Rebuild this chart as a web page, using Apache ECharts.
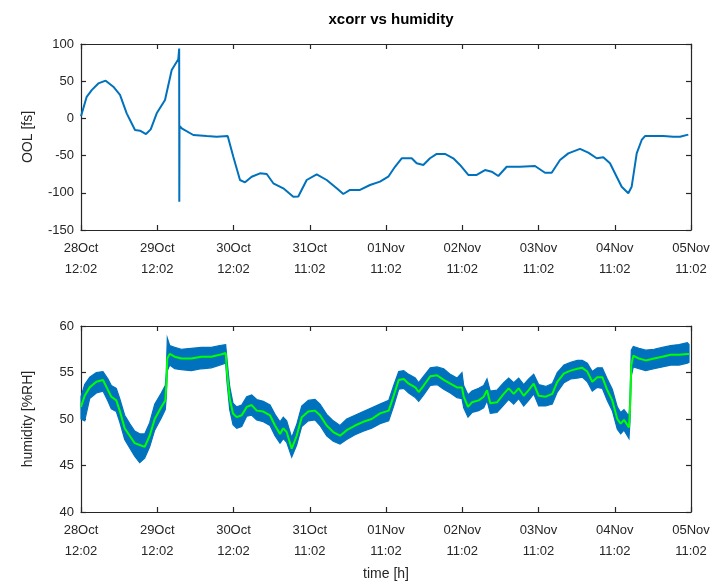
<!DOCTYPE html>
<html>
<head>
<meta charset="utf-8">
<title>xcorr vs humidity</title>
<script src="https://cdn.jsdelivr.net/npm/echarts@6/dist/echarts.min.js"></script>
<style>
  html, body { margin: 0; padding: 0; background: #ffffff; }
  #chart { width: 716px; height: 582px; }
</style>
</head>
<body>
<div id="chart"></div>
<script>
// Time axis: hours since 28 Oct 12:02, one tick per day
const xTickLabels = [
  '28Oct\n12:02', '29Oct\n12:02', '30Oct\n12:02', '31Oct\n11:02', '01Nov\n11:02',
  '02Nov\n11:02', '03Nov\n11:02', '04Nov\n11:02', '05Nov\n11:02'
];

// OOL cross-correlation offset [fs]
const oolHours = [
  0, 1.79, 3.37, 5.45, 7.77, 10.17, 12.28, 14.38, 17.0, 18.57, 20.46, 21.94, 23.83, 26.44,
  28.55, 30.62, 30.90, 30.94, 31.00, 31.70, 35.35, 39.56, 42.71, 46.17, 47.94, 50.04, 51.62,
  53.73, 56.34, 58.45, 60.53, 63.67, 66.82, 68.39, 71.04, 74.19, 77.33, 80.48, 82.56, 84.67,
  87.81, 90.96, 94.11, 96.72, 98.83, 100.94, 104.09, 105.66, 107.74, 109.85, 111.96, 114.57,
  117.18, 119.29, 121.90, 124.55, 127.16, 129.27, 131.35, 133.99, 138.18, 142.90, 146.05,
  148.15, 150.77, 153.38, 157.06, 159.67, 162.32, 164.40, 166.50, 168.61, 170.18, 172.26,
  173.33, 174.91, 176.48, 177.52, 183.28, 186.43, 188.54, 191.15
];
const oolValues = [
  3, 29, 38, 47, 50.7, 42.6, 31.5, 6.8, -15.6, -16.5, -21, -14.7, 6.8, 24.7,
  65, 79.4, 94, -112, -10, -13.3, -22.3, -23.7, -24.6, -23.7, -51.5, -82.8, -85.9,
  -78.4, -73.8, -74.7, -87.2, -94, -105.2, -105, -82.8, -75.1, -82.8, -94, -101.6, -96.2,
  -96.2, -89.5, -85, -78.4, -65, -53.6, -53.6, -60.3, -62.6, -53.6, -47.8, -47.8,
  -53.6, -62.6, -76, -76, -69.4, -71.6, -77.4, -65, -65, -64, -73,
  -73, -55.9, -47, -41, -46, -53.6, -52.3, -60.3, -78.4, -91.8, -100.7,
  -91.8, -47, -29, -23.7, -23.7, -24.6, -24.6, -21.8
];

// Humidity [%RH]: smoothed trace plus the spread of the raw readings
const humHours = [
  0, 1.16, 2.74, 4.82, 6.92, 8.50, 9.54, 11.11, 12.18, 13.75, 15.33, 16.90, 18.48, 20.05,
  21.62, 23.20, 25.27, 26.53, 26.85, 27.16, 27.92, 29.49, 31.57, 34.72, 37.86, 41.01, 43.66,
  45.54, 45.95, 46.80, 47.84, 49.01, 50.58, 52.15, 53.73, 55.30, 57.38, 59.49, 61.06, 62.64,
  63.67, 64.74, 66.32, 67.89, 69.47, 71.54, 73.65, 75.23, 77.33, 79.41, 81.52, 83.63, 86.24,
  88.85, 91.50, 94.11, 96.85, 98.42, 100.0, 101.57, 103.14, 105.22, 106.29, 107.86, 109.94,
  112.05, 114.16, 116.24, 118.35, 119.92, 120.46, 121.81, 123.07, 125.18, 126.75, 127.79,
  128.83, 130.94, 133.04, 134.62, 136.19, 137.76, 139.34, 140.91, 142.49, 144.06, 146.26,
  148.34, 149.91, 152.02, 154.13, 156.21, 157.78, 159.36, 160.93, 162.50, 164.08, 165.65,
  167.23, 168.80, 169.87, 170.91, 172.48, 172.80, 173.21, 173.84, 175.63, 177.74, 180.35,
  182.96, 185.61, 188.22, 190.83, 191.37
];
const humSmooth = [
  51.3, 52.5, 53.4, 54.0, 54.2, 53.1, 52.4, 52.0, 50.9, 49.0, 48.2, 47.4, 47.2, 47.0,
  48.2, 50.0, 51.3, 52.0, 53.6, 56.5, 57.0, 56.7, 56.5, 56.5, 56.7, 56.7, 56.9,
  57.1, 55.1, 52.2, 50.6, 50.2, 50.4, 51.3, 51.5, 50.9, 50.8, 50.4, 49.3, 48.4,
  49.0, 48.6, 46.8, 48.2, 50.2, 50.8, 50.9, 50.4, 49.3, 48.6, 48.2, 48.8, 49.3,
  49.7, 50.0, 50.6, 50.9, 52.5, 54.2, 54.3, 53.8, 53.4, 52.9, 53.6, 54.6,
  54.7, 54.2, 53.8, 53.4, 53.4, 52.4, 51.3, 51.8, 52.0, 52.4, 53.1,
  51.7, 51.8, 52.7, 53.3, 52.7, 53.3, 52.5, 53.1, 53.8, 52.5, 52.4,
  52.7, 54.0, 54.9, 55.2, 55.4, 55.5, 55.1, 54.0, 54.5, 54.5, 53.1,
  52.0, 50.0, 49.5, 49.9, 49.1, 51.1, 55.8, 56.8, 56.5, 56.3, 56.5,
  56.7, 56.9, 56.9, 57.0, 57.0
];
const humHigh = [
  52.4, 53.7, 54.5, 55.0, 55.1, 54.3, 53.6, 53.3, 52.2, 50.4, 49.5, 48.7, 48.4, 48.4,
  49.6, 51.6, 52.8, 53.6, 55.0, 58.7, 57.9, 57.7, 57.5, 57.6, 57.7, 57.7, 57.9,
  58.0, 56.4, 53.5, 51.7, 51.3, 51.5, 52.4, 52.6, 52.1, 51.9, 51.5, 50.5, 49.7,
  50.2, 49.8, 48.0, 49.4, 51.4, 52.0, 52.1, 51.6, 50.5, 49.8, 49.3, 50.0, 50.4,
  50.8, 51.2, 51.6, 52.0, 53.6, 55.1, 55.2, 54.8, 54.4, 53.9, 54.6, 55.5,
  55.6, 55.4, 54.8, 54.4, 55.0, 53.6, 52.6, 53.0, 53.3, 53.6, 54.3,
  53.0, 53.1, 53.9, 54.4, 53.9, 54.4, 53.7, 54.3, 54.8, 53.7, 53.5,
  53.8, 55.0, 55.8, 56.1, 56.3, 56.3, 56.0, 55.1, 55.5, 55.5, 54.3,
  53.2, 51.3, 50.7, 51.0, 50.3, 52.4, 57.4, 57.8, 57.6, 57.4, 57.5,
  57.7, 57.9, 58.0, 58.2, 58.0
];
const humLow = [
  50.0, 49.8, 52.2, 52.8, 53.0, 51.9, 51.1, 50.8, 49.7, 47.8, 46.9, 46.0, 45.3, 45.8,
  47.0, 48.8, 50.1, 51.0, 52.4, 55.2, 55.8, 55.4, 55.3, 55.2, 55.4, 55.5, 55.8,
  56.0, 54.0, 51.0, 49.4, 49.0, 49.2, 50.3, 50.4, 49.9, 49.7, 49.3, 48.2, 47.4,
  47.9, 47.5, 45.9, 47.2, 49.2, 49.8, 49.9, 49.3, 48.2, 47.6, 47.3, 47.8, 48.3,
  48.7, 49.0, 49.5, 49.8, 51.4, 53.2, 53.3, 52.8, 52.3, 51.9, 52.6, 53.6,
  53.7, 53.2, 52.8, 52.3, 52.2, 51.2, 50.2, 50.7, 50.9, 51.2, 52.0,
  50.6, 50.7, 51.5, 52.1, 51.6, 52.2, 51.4, 52.0, 52.7, 51.4, 51.4,
  51.6, 52.9, 53.9, 54.3, 54.4, 54.5, 54.0, 53.0, 53.4, 53.3, 52.0,
  50.9, 48.9, 48.4, 48.8, 47.9, 49.8, 54.6, 55.6, 55.4, 55.2, 55.4,
  55.6, 55.8, 55.8, 56.0, 56.1
];

const FONT = '"Liberation Sans", Arial, Helvetica, sans-serif';
const INK = '#262626';
const BLUE = '#0072BD';
const GREEN = '#00ff00';

function timeAxis(gridIndex, position, showLabels, name) {
  return {
    type: 'value', gridIndex, position,
    min: 0, max: 192, interval: 24,
    name: name || '', nameLocation: 'middle', nameGap: 55,
    nameTextStyle: { color: INK, fontFamily: FONT, fontSize: 14 },
    axisLine: { show: true, onZero: false, lineStyle: { color: INK, width: 1.2 } },
    axisTick: { show: true, inside: true, length: 5, lineStyle: { color: INK, width: 1.2 } },
    axisLabel: {
      show: showLabels, margin: 8, color: INK, fontFamily: FONT, fontSize: 13, lineHeight: 21,
      formatter: v => xTickLabels[Math.round(v / 24)] || ''
    },
    splitLine: { show: false }
  };
}

function valueAxis(gridIndex, position, min, max, interval, showLabels, name) {
  return {
    type: 'value', gridIndex, position, min, max, interval,
    name: name || '', nameLocation: 'middle', nameGap: 46,
    nameTextStyle: { color: INK, fontFamily: FONT, fontSize: 14 },
    axisLine: { show: true, onZero: false, lineStyle: { color: INK, width: 1.2 } },
    axisTick: { show: true, inside: true, length: 5, lineStyle: { color: INK, width: 1.2 } },
    axisLabel: { show: showLabels, margin: 7, color: INK, fontFamily: FONT, fontSize: 13 },
    splitLine: { show: false }
  };
}

const chart = echarts.init(document.getElementById('chart'), null, { renderer: 'canvas' });

chart.setOption({
  animation: false,
  backgroundColor: '#ffffff',
  title: {
    text: 'xcorr vs humidity',
    left: 386, top: 7, textAlign: 'center',
    textStyle: { color: '#000000', fontFamily: FONT, fontSize: 15, fontWeight: 'bold' }
  },
  grid: [
    { left: 81, top: 44, width: 610, height: 186 },
    { left: 81, top: 326, width: 610, height: 186 }
  ],
  xAxis: [
    timeAxis(0, 'bottom', true),
    timeAxis(0, 'top', false),
    timeAxis(1, 'bottom', true, 'time [h]'),
    timeAxis(1, 'top', false)
  ],
  yAxis: [
    valueAxis(0, 'left', -150, 100, 50, true, 'OOL [fs]'),
    valueAxis(0, 'right', -150, 100, 50, false),
    valueAxis(1, 'left', 40, 60, 5, true, 'humidity [%RH]'),
    valueAxis(1, 'right', 40, 60, 5, false)
  ],
  series: [
    {
      name: 'OOL',
      type: 'line',
      xAxisIndex: 0, yAxisIndex: 0,
      data: oolHours.map((h, i) => [h, oolValues[i]]),
      showSymbol: false,
      lineStyle: { color: BLUE, width: 2 },
      z: 3
    },
    {
      // spread of raw humidity readings, drawn as a filled band
      name: 'humidity raw',
      type: 'custom',
      xAxisIndex: 2, yAxisIndex: 2,
      data: [[humHours[0], humSmooth[0]]],
      renderItem: (params, api) => {
        const pts = [];
        for (let i = 0; i < humHours.length; i++) pts.push(api.coord([humHours[i], humHigh[i]]));
        for (let i = humHours.length - 1; i >= 0; i--) pts.push(api.coord([humHours[i], humLow[i]]));
        return {
          type: 'polygon',
          shape: { points: pts },
          style: { fill: BLUE, stroke: BLUE, lineWidth: 1.2 }
        };
      },
      z: 2
    },
    {
      name: 'humidity smoothed',
      type: 'line',
      xAxisIndex: 2, yAxisIndex: 2,
      data: humHours.map((h, i) => [h, humSmooth[i]]),
      showSymbol: false,
      lineStyle: { color: GREEN, width: 2 },
      z: 4
    }
  ]
});
</script>
</body>
</html>
